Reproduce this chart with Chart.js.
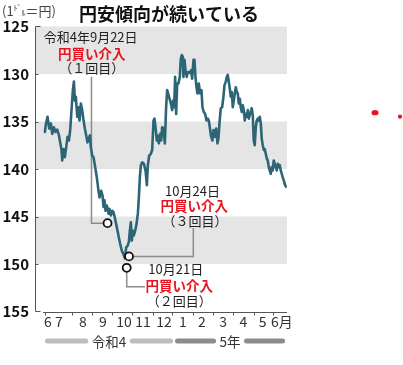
<!DOCTYPE html>
<html><head><meta charset="utf-8">
<script src="https://cdn.jsdelivr.net/npm/chart.js@4.4.1/dist/chart.umd.min.js"></script>
<style>
html,body{margin:0;padding:0;background:#fff;}
#wrap{position:relative;width:403px;height:365px;overflow:hidden;}
canvas{position:absolute;left:0;top:0;}
</style></head><body>
<div id="wrap"><canvas id="c" width="403" height="365"></canvas></div>
<script>
// ---- data (x = day index from 2022-06-01) ----
const tradeDay = [14.5,16.0,18.6,21.3,23.9,25.9,28.5,31.1,33.75,36.4,38.4,40.5,41.6,43.6,45.7,47.8,49.9,52.0,54.0,56.1,58.2,59.8,61.4,62.9,65.0,66.6,68.6,70.7,72.8,74.9,77.0,79.0,81.1,83.2,84.8,86.3,88.4,90.5,92.6,95.7,98.3,99.9,102.5,104.6,106.1,107.7,109.3,111.4,114.0,115.5,117.6,119.7,121.8,123.9,125.9,128.0,130.1,132.2,134.8,137.4,139.5,141.6,143.6,145.7,147.3,148.9,150.4,152.0,153.5,155.6,157.7,159.8,161.4,162.9,164.5,166.6,169.2,171.8,173.9,175.4,177.5,180.1,182.2,184.3,185.8,187.4,189.5,191.0,192.6,194.7,196.3,197.8,199.9,202.0,204.0,205.6,207.2,209.3,211.4,213.4,215.0,216.6,218.1,219.7,221.3,223.3,225.4,227.0,228.5,230.1,231.1,232.7,234.3,236.3,237.9,240.0,241.6,243.1,244.7,246.8,248.3,249.9,251.5,253.0,255.1,257.2,259.3,260.8,262.9,265.0,267.1,269.2,270.7,272.3,274.4,276.4,278.0,280.1,282.2,284.3,285.8,287.4,289.5,291.6,293.6,295.2,297.3,298.9,300.4,302.0,303.5,305.1,306.7,308.2,309.8,311.4,312.9,314.5,316.0,317.6,319.2,320.7,322.3,323.9,325.4,327.0,328.5,330.1,331.7,333.2,334.8,336.3,337.9,339.5,341.0,342.6,344.2,345.7,347.3,348.9,350.4,352.0,353.5,355.1,356.7,358.2,359.8,361.4,362.9,364.5,366.0,367.6,369.2,370.7,372.3,373.9,375.4,377.0,378.6,380.2,381.7,383.3,384.8,386.4,388.0,389.5,391.1];
const usdJpy = [136.1,135.3,134.5,135.75,135.2,136.3,135.6,136.1,135.85,136.45,137.2,138.0,139.1,137.9,138.75,137.7,136.6,137.0,135.9,133.8,131.7,130.8,132.8,132.4,134.5,133.5,134.9,133.1,133.8,134.9,135.75,136.45,137.2,136.8,136.45,137.7,138.6,138.75,139.6,140.9,142.3,143.0,142.3,142.8,144.0,143.3,144.4,143.85,144.7,144.2,144.9,144.4,144.55,145.15,145.8,146.5,147.2,147.9,148.6,149.0,149.4,148.25,148.1,147.7,146.5,145.6,147.55,146.5,147.0,146.5,145.8,144.7,143.0,140.9,139.6,139.3,139.45,140.15,141.7,139.6,138.6,138.4,138.0,134.9,134.7,135.6,137.0,136.5,137.3,136.3,137.0,135.6,135.75,137.3,133.5,131.7,132.05,132.6,133.1,133.8,132.8,133.5,130.3,134.2,131.0,131.0,130.3,128.4,128.0,128.2,130.3,128.5,129.6,130.3,129.8,129.8,129.9,129.6,130.5,128.5,128.5,130.3,131.4,132.05,131.0,132.05,131.7,133.5,134.0,134.2,134.9,134.7,134.9,135.6,136.6,137.0,135.9,136.6,135.75,137.3,136.8,135.2,133.6,133.5,132.4,131.2,130.8,130.3,130.1,130.8,131.5,132.4,131.9,133.5,132.8,132.05,131.4,131.9,132.05,133.1,132.6,133.5,134.0,133.3,133.8,134.9,134.2,134.5,133.8,134.7,134.35,134.0,133.6,134.35,137.0,137.5,135.6,134.9,134.7,134.9,134.5,135.2,136.8,137.5,138.0,137.9,138.4,138.9,139.1,139.8,140.15,140.5,139.8,140.15,139.1,139.45,139.8,140.15,139.45,139.8,139.6,140.15,140.5,140.9,141.2,141.6,141.85];
const interventionDay  = [112.4, 142.4, 146.0];
const interventionRate = [145.7, 150.4, 149.2];
const yTickValues = [125,130,135,140,145,150,155];
const monthLabels = ['6','7','8','9','10','11','12','1','2','3','4','5','6月'];
const monthLabelDay = [19.3,36.5,74.0,105.3,138.2,167.9,200.7,230.4,260.1,293.0,325.0,355.0,385.0];
const monthTickDay = [14.6,56.4,87.6,118.9,150.2,184.0,212.7,246.5,277.8,309.0,341.9,371.6];
const eraLabels = ['令和4','5年'];
const eraStart = [14.6, 217.9];
const eraEnd = [214.8, 390.0];
const bandRanges = [[125,130],[135,140],[145,150]];
// annotation texts anchored in data units
const notes = [
  {t:'令和4年9月22日', x:86, y:126.1, red:false},
  {t:'円買い介入',     x:87.6, y:127.85, red:true},
  {t:'（１回目）',     x:87.6, y:129.33, red:false},
  {t:'10月24日',       x:245.3, y:142.37, red:false},
  {t:'円買い介入',     x:247.9, y:143.9, red:true},
  {t:'（３回目）',     x:249.2, y:145.47, red:false},
  {t:'10月21日',       x:219.1, y:150.53, red:false},
  {t:'円買い介入',     x:224.6, y:152.3, red:true},
  {t:'（２回目）',     x:224.4, y:153.9, red:false}
];
const leaders = [
  [[87.3,130.3],[87.3,145.7],[112.4,145.7]],
  [[146.0,149.2],[246.5,149.2],[246.5,146.2]],
  [[142.4,150.4],[142.4,152.4],[171.0,152.4]]
];

const JP = '"Noto Sans CJK JP", sans-serif';

const decor = {
  id:'decor',
  beforeDatasetsDraw(chart){
    const {ctx, chartArea:ca, scales:{x,y}} = chart;
    ctx.save();
    ctx.fillStyle = '#e5e5e5';
    for (const [a,b] of bandRanges){
      const y1 = y.getPixelForValue(a), y2 = y.getPixelForValue(b);
      ctx.fillRect(ca.left, y1, ca.right-ca.left, y2-y1);
    }
    // leader lines
    ctx.strokeStyle = '#8c8c8c'; ctx.lineWidth = 1.5;
    for (const pts of leaders){
      ctx.beginPath();
      pts.forEach((p,i)=>{const px=x.getPixelForValue(p[0]), py=y.getPixelForValue(p[1]); i?ctx.lineTo(px,py):ctx.moveTo(px,py);});
      ctx.stroke();
    }
    // y axis line with feet and inner ticks
    ctx.strokeStyle = '#555'; ctx.lineWidth = 1;
    const ax = ca.left + 0.5;
    const top = y.getPixelForValue(125), bot = y.getPixelForValue(155);
    ctx.beginPath();
    ctx.moveTo(ax+5, top); ctx.lineTo(ax, top); ctx.lineTo(ax, bot); ctx.lineTo(ax+5, bot);
    for (const v of yTickValues.slice(1,-1)){
      const py = Math.round(y.getPixelForValue(v))+0.5;
      ctx.moveTo(ax, py); ctx.lineTo(ax+3, py);
    }
    ctx.stroke();
    // x baseline + month ticks
    const by = Math.round(bot)+0.5;
    ctx.beginPath();
    ctx.moveTo(ca.left+8, by); ctx.lineTo(ca.right, by);
    for (const d of monthTickDay){
      const px = Math.round(x.getPixelForValue(d))+0.5;
      ctx.moveTo(px, by); ctx.lineTo(px, by+3);
    }
    ctx.stroke();
    ctx.restore();
  },
  afterDraw(chart){
    const {ctx, chartArea:ca, scales:{x,y}} = chart;
    ctx.save();
    ctx.textAlign = 'center'; ctx.textBaseline = 'middle';
    for (const n of notes){
      ctx.font = (n.red ? 'bold 13.5px ' : '13px ') + JP;
      ctx.fillStyle = n.red ? '#e8141e' : '#222';
      ctx.fillText(n.t, x.getPixelForValue(n.x), y.getPixelForValue(n.y));
    }
    // era bars
    const ey = ca.bottom + 29.5;
    ctx.lineCap = 'round'; ctx.lineWidth = 5;
    ctx.font = '13.5px ' + JP;
    eraLabels.forEach((lab,i)=>{
      const x1 = x.getPixelForValue(eraStart[i]), x2 = x.getPixelForValue(eraEnd[i]);
      const cx = (x1+x2)/2, w = ctx.measureText(lab).width;
      ctx.strokeStyle = i===0 ? '#bdbdbd' : '#8c8c8c';
      ctx.beginPath();
      ctx.moveTo(x1+2.5, ey); ctx.lineTo(cx-w/2-6, ey);
      ctx.moveTo(cx+w/2+6, ey); ctx.lineTo(x2-2.5, ey);
      ctx.stroke();
      ctx.fillStyle = '#333';
      ctx.fillText(lab, cx, ey+0.5);
    });
    // title and unit
    ctx.textAlign = 'left';
    ctx.fillStyle = '#111';
    ctx.font = 'bold 18px ' + JP;
    ctx.fillText('円安傾向が続いている', 79, 14);
    ctx.fillStyle = '#444';
    ctx.font = '13px ' + JP;
    ctx.fillText('(1', 2, 11);
    let w = ctx.measureText('(1').width;
    ctx.font = '8px ' + JP;
    ctx.fillText('ﾄﾞ', 2+w, 8);
    const w2 = ctx.measureText('ﾄﾞ').width;
    ctx.fillText('ﾙ', 2+w+w2, 13);
    const w3 = ctx.measureText('ﾙ').width;
    ctx.font = '13px ' + JP;
    ctx.fillText('＝円)', 2+w+w2+w3, 11);
    // stray red marks at right edge
    ctx.fillStyle = '#e8141e';
    ctx.beginPath(); ctx.ellipse(375, 112.7, 3.5, 2.6, 0, 0, Math.PI*2); ctx.fill();
    ctx.beginPath(); ctx.arc(400, 116.7, 2.1, 0, Math.PI*2); ctx.fill();
    ctx.restore();
  }
};

new Chart(document.getElementById('c'), {
  type:'line',
  data:{
    datasets:[
      {
        data: tradeDay.map((d,i)=>({x:d, y:usdJpy[i]})),
        borderColor:'#2c6676', borderWidth:2.6, pointRadius:0, tension:0,
        borderJoinStyle:'round', borderCapStyle:'round', order:2
      },
      {
        type:'scatter',
        data: interventionDay.map((d,i)=>({x:d, y:interventionRate[i]})),
        pointRadius:4, pointBackgroundColor:'#fff', pointBorderColor:'#111', pointBorderWidth:1.8,
        showLine:false, order:1
      }
    ]
  },
  options:{
    responsive:false, animation:false, devicePixelRatio:1,
    layout:{padding:{top:26.5, right:116, left:0, bottom:0}},
    plugins:{legend:{display:false}, tooltip:{enabled:false}},
    scales:{
      x:{
        type:'linear', min:-1, max:393,
        afterFit(s){ s.height = 53.5; },
        afterBuildTicks(s){ s.ticks = monthLabelDay.map(v=>({value:v})); },
        grid:{display:false, drawTicks:false}, border:{display:false},
        ticks:{autoSkip:false, maxRotation:0, padding:2, color:'#333',
          font:{family:JP, size:14},
          callback:(v,i)=>monthLabels[i]}
      },
      y:{
        type:'linear', reverse:true, min:125, max:155,
        afterFit(s){ s.width = 35; },
        afterBuildTicks(s){ s.ticks = yTickValues.map(v=>({value:v})); },
        grid:{display:false, drawTicks:false}, border:{display:false},
        ticks:{padding:6, color:'#111', font:{family:JP, size:15, weight:'bold'}}
      }
    }
  },
  plugins:[decor]
});
</script>
</body></html>
